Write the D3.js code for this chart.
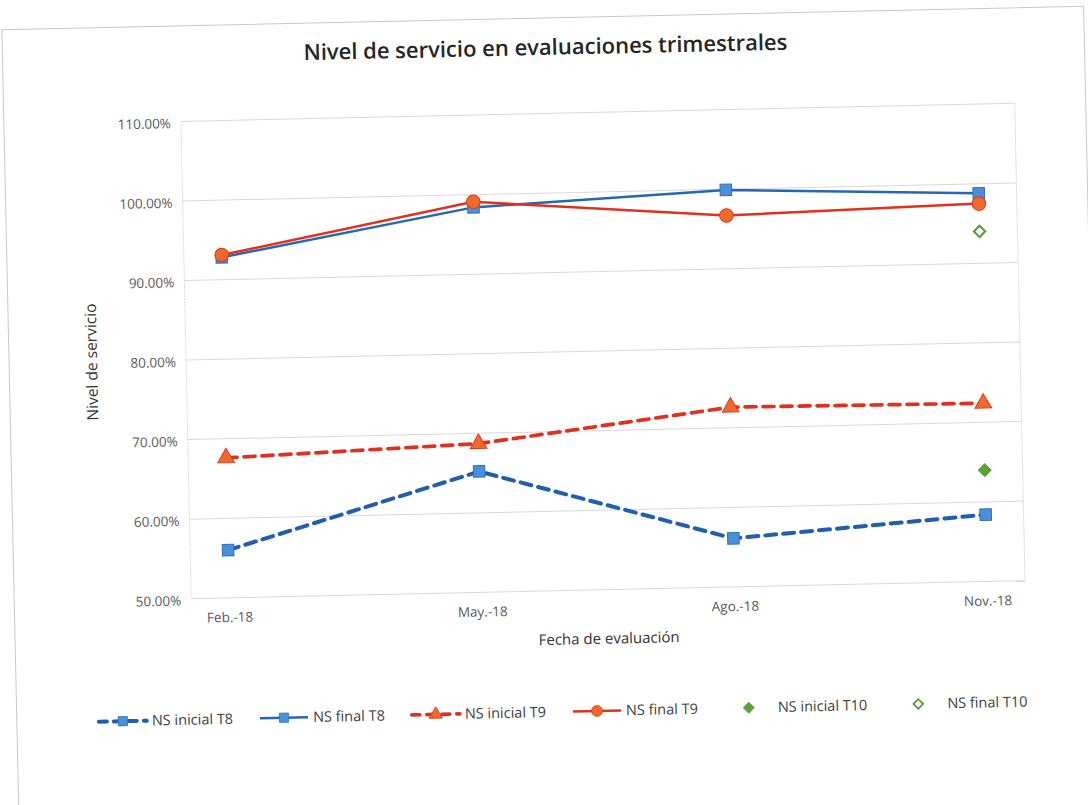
<!DOCTYPE html>
<html>
<head>
<meta charset="utf-8">
<script src="https://cdn.jsdelivr.net/npm/d3@7"></script>
<style>
  body { margin: 0; background: #fff; }
  text { font-family: "Open Sans", sans-serif; }
</style>
</head>
<body>
<script>
// values (percent)
const categories = ['Feb.-18', 'May.-18', 'Ago.-18', 'Nov.-18'];
const nsInicialT8 = [56.0, 65.2, 56.1, 58.4];
const nsFinalT8 = [92.8, 98.4, 99.9, 98.8];
const nsInicialT9 = [67.6, 68.7, 72.6, 72.4];
const nsFinalT9 = [93.1, 99.1, 96.7, 97.5];
const nsInicialT10 = [null, null, null, 64.0];
const nsFinalT10 = [null, null, null, 94.0];
const yTicks = [50, 60, 70, 80, 90, 100, 110];

const WIDTH = 1088;
const HEIGHT = 805;
const plot = { left: 187, right: 1021, top: 113.6, bottom: 591 };

const series = [
    { name: 'NS inicial T8', values: nsInicialT8, line: '#1F5FAE', width: 4, dash: '11,7', shape: 'square', fill: '#4A90D9', stroke: '#2E6FB8' },
    { name: 'NS final T8', values: nsFinalT8, line: '#2566B5', width: 2.5, dash: null, shape: 'square', fill: '#4A90D9', stroke: '#2E6FB8' },
    { name: 'NS inicial T9', values: nsInicialT9, line: '#E2301F', width: 3.7, dash: '11,7', shape: 'triangle', fill: '#F2692E', stroke: '#D93A1E' },
    { name: 'NS final T9', values: nsFinalT9, line: '#E2301F', width: 2.5, dash: null, shape: 'circle', fill: '#F2692E', stroke: '#D93A1E' },
    { name: 'NS inicial T10', values: nsInicialT10, line: null, shape: 'diamond', fill: '#5DA13A', stroke: '#5DA13A' },
    { name: 'NS final T10', values: nsFinalT10, line: null, shape: 'diamond', fill: '#fff', stroke: '#4E9A33' }
];

const svg = d3.select('body').append('svg')
    .attr('width', WIDTH)
    .attr('height', HEIGHT);

// the scan is slightly tilted, so the whole chart is turned a little
const g = svg.append('g').attr('transform', 'rotate(-1.24, 544, 400)');

g.append('rect')
    .attr('x', 10).attr('y', 18)
    .attr('width', 1082).attr('height', 800)
    .attr('fill', 'none')
    .attr('stroke', '#c8c8c8');

const x = d3.scalePoint()
    .domain(categories)
    .range([plot.left, plot.right])
    .padding(0.15);

const y = d3.scaleLinear()
    .domain([50, 110])
    .range([plot.bottom, plot.top]);

// gridlines
g.append('g').selectAll('line')
    .data(yTicks)
    .enter()
    .append('line')
    .attr('x1', plot.left).attr('x2', plot.right)
    .attr('y1', d => y(d)).attr('y2', d => y(d))
    .attr('stroke', '#d9d9d9')
    .attr('stroke-width', 1);

g.append('line')
    .attr('x1', plot.left).attr('x2', plot.left)
    .attr('y1', plot.top).attr('y2', plot.bottom)
    .attr('stroke', '#d9d9d9')
    .attr('stroke-dasharray', '2,1');
g.append('line')
    .attr('x1', plot.right).attr('x2', plot.right)
    .attr('y1', plot.top).attr('y2', plot.bottom)
    .attr('stroke', '#e3e3e3');

// y axis labels
const yAxis = g.append('g')
    .attr('transform', `translate(${plot.left - 10},0)`)
    .call(d3.axisLeft(y).tickValues(yTicks).tickSize(0).tickPadding(0).tickFormat(d => d.toFixed(2) + '%'));
yAxis.select('.domain').remove();
yAxis.selectAll('text')
    .attr('font-family', '"Open Sans", sans-serif')
    .attr('font-size', 13.5)
    .attr('fill', '#595959')
    .attr('dy', '0.45em');

// x axis labels
const xAxis = g.append('g')
    .attr('transform', `translate(0,${plot.bottom + 12})`)
    .call(d3.axisBottom(x).tickSize(0).tickPadding(0));
xAxis.select('.domain').remove();
xAxis.selectAll('text')
    .attr('font-family', '"Open Sans", sans-serif')
    .attr('font-size', 13.5)
    .attr('fill', '#595959')
    .attr('dy', '0.9em');

// titles
g.append('text')
    .attr('x', 553).attr('y', 55)
    .attr('text-anchor', 'middle')
    .attr('font-size', 22)
    .attr('font-weight', 600)
    .attr('fill', '#262626')
    .text('Nivel de servicio en evaluaciones trimestrales');

g.append('text')
    .attr('x', (plot.left + plot.right) / 2).attr('y', 645)
    .attr('text-anchor', 'middle')
    .attr('font-size', 15)
    .attr('fill', '#333')
    .text('Fecha de evaluación');

g.append('text')
    .attr('transform', `translate(98,${(plot.top + plot.bottom) / 2}) rotate(-90)`)
    .attr('text-anchor', 'middle')
    .attr('font-size', 15.5)
    .attr('fill', '#333')
    .text('Nivel de servicio');

const symbolPath = shape => {
    if (shape === 'square') { return d3.symbol(d3.symbolSquare, 132)(); }
    if (shape === 'circle') { return d3.symbol(d3.symbolCircle, 145)(); }
    if (shape === 'triangle') { return d3.symbol(d3.symbolTriangle, 120)(); }
    return d3.symbol(d3.symbolSquare, 64)();
};
const symbolRot = shape => (shape === 'diamond' ? ' rotate(45)' : '');

const line = d3.line()
    .defined(d => d.v !== null)
    .x(d => x(d.c))
    .y(d => y(d.v));

series.forEach(s => {
    const pts = s.values.map((v, i) => ({ c: categories[i], v }));
    if (s.line) {
        g.append('path')
            .datum(pts)
            .attr('d', line)
            .attr('fill', 'none')
            .attr('stroke', s.line)
            .attr('stroke-width', s.width)
            .attr('stroke-dasharray', s.dash)
            .attr('stroke-linecap', s.dash ? 'round' : 'butt');
    }
    g.append('g').selectAll('path')
        .data(pts.filter(d => d.v !== null))
        .enter()
        .append('path')
        .attr('d', symbolPath(s.shape))
        .attr('transform', d => `translate(${x(d.c)},${y(d.v)})` + symbolRot(s.shape))
        .attr('fill', s.fill)
        .attr('stroke', s.stroke)
        .attr('stroke-width', s.shape === 'diamond' ? 2 : 1);
});

// legend
const legendY = 712;
let lx = 90;
series.forEach(s => {
    const item = g.append('g').attr('transform', `translate(${lx},${legendY})`);
    if (s.line) {
        item.append('line')
            .attr('x1', 2).attr('x2', 50)
            .attr('stroke', s.line)
            .attr('stroke-width', s.width)
            .attr('stroke-dasharray', s.dash ? '8,7' : null)
            .attr('stroke-linecap', s.dash ? 'round' : 'butt');
    }
    item.append('path')
        .attr('d', symbolPath(s.shape))
        .attr('transform', `translate(26,0) scale(${s.shape === 'diamond' ? 0.85 : 0.8})` + symbolRot(s.shape))
        .attr('fill', s.fill)
        .attr('stroke', s.stroke)
        .attr('stroke-width', s.shape === 'diamond' ? 2 : 1);
    const t = item.append('text')
        .attr('x', 55).attr('y', 5)
        .attr('font-size', 14.5)
        .attr('fill', '#404040')
        .text(s.name);
    lx += 55 + t.node().getComputedTextLength() + 25;
});
</script>
</body>
</html>
